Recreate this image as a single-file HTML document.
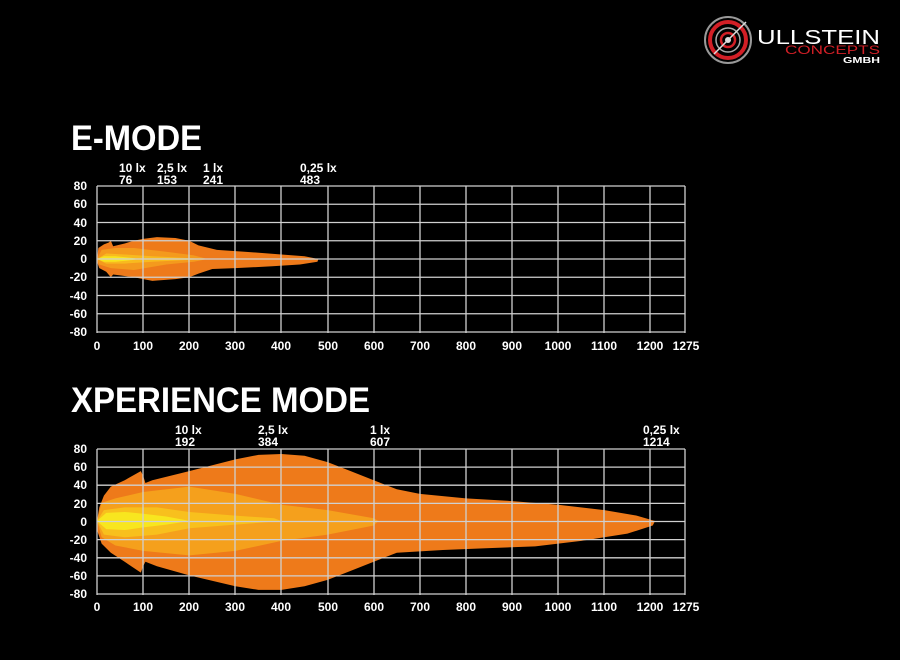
<!DOCTYPE html>
<html><head><meta charset="utf-8"><style>
html,body{margin:0;padding:0;background:#000;}
svg{display:block}
text{font-family:"Liberation Sans",sans-serif;font-weight:bold;fill:#fff}
</style></head><body>
<svg width="900" height="660" viewBox="0 0 900 660">
<rect width="900" height="660" fill="#000"/>
<!-- logo -->
<g transform="translate(728,40)">
<circle r="23" fill="none" stroke="#999" stroke-width="2"/>
<circle r="18" fill="none" stroke="#d21f26" stroke-width="4"/>
<circle r="12" fill="none" stroke="#aaa" stroke-width="1.5"/>
<circle r="7" fill="none" stroke="#d21f26" stroke-width="2.5"/>
<circle r="3" fill="#ddd"/>
<line x1="-14" y1="14" x2="18" y2="-18" stroke="#ddd" stroke-width="1.5"/>
</g>
<text x="757" y="44" font-size="20" textLength="123" lengthAdjust="spacingAndGlyphs" style="font-weight:normal">ULLSTEIN</text>
<text x="785" y="54" font-size="12" textLength="95" lengthAdjust="spacingAndGlyphs" style="font-weight:normal;fill:#d21f26">CONCEPTS</text>
<text x="843" y="63" font-size="8" textLength="37" lengthAdjust="spacingAndGlyphs">GMBH</text>

<text x="71" y="150" font-size="35" textLength="131" lengthAdjust="spacingAndGlyphs">E-MODE</text>
<text x="71" y="412" font-size="35" textLength="299" lengthAdjust="spacingAndGlyphs">XPERIENCE MODE</text>

<!-- chart 1 shapes -->
<g transform="translate(97,259) scale(0.4612,-0.9125)">
<polygon fill="#EE7A1A" points="0,0 3,12 15,16 25,18 30,20 35,14 60,17 80,20 100,22 130,24 170,23 200,20 220,15 260,10 320,8 400,5 450,3 480,0 478,-3 440,-6 380,-8 300,-10 250,-11 220,-16 200,-20 170,-22 120,-24 80,-20 50,-18 35,-17 30,-20 20,-14 5,-10 0,-3"/>
<polygon fill="#F49A1D" points="0,0 10,10 40,12 80,12 150,8 210,4 240,0 210,-3 150,-6 80,-12 30,-10 5,-6"/>
<polygon fill="#F8BA1E" points="0,0 20,6 60,5 120,3 200,1 240,0 200,-1 120,-3 60,-5 20,-5"/>
<polygon fill="#F8E41E" points="0,0 15,3 40,3 80,1 90,0 80,-1 40,-3 15,-3"/>
</g>
<!-- chart 2 shapes -->
<g transform="translate(97,521) scale(0.4612,-0.906)">
<polygon fill="#EE7A1A" points="0,0 5,15 15,28 30,38 60,45 95,55 100,50 105,42 120,45 200,55 300,68 350,73 400,74 450,72 500,65 550,55 600,45 650,35 700,30 800,25 900,22 1000,18 1100,12 1170,6 1210,0 1205,-5 1150,-14 1050,-22 950,-28 850,-30 750,-32 650,-35 600,-45 550,-55 500,-65 450,-72 400,-76 350,-76 300,-72 200,-60 130,-50 105,-45 100,-50 95,-57 60,-45 30,-35 10,-25 0,-10"/>
<polygon fill="#F5A01C" points="0,0 10,20 40,25 100,32 200,38 300,30 400,18 500,12 600,3 610,0 600,-5 500,-15 400,-22 300,-33 200,-38 100,-33 40,-27 10,-18"/>
<polygon fill="#F8C01D" points="0,0 15,12 60,15 130,15 200,10 300,6 384,3 400,0 300,-4 200,-8 130,-15 60,-18 15,-15"/>
<polygon fill="#F8E61F" points="0,0 20,9 60,10 100,8 150,5 192,1 200,0 150,-4 100,-7 60,-10 20,-9"/>
</g>

<g stroke="#d0d0d0" stroke-width="1.3" fill="none">
<path d="M97,186V333M143,186V333M189,186V333M235,186V333M281,186V333M328,186V333M374,186V333M420,186V333M466,186V333M512,186V333M558,186V333M604,186V333M650,186V333M685,186V333"/>
<path d="M97,186H685M97,204.25H685M97,222.5H685M97,240.75H685M97,259H685M97,277.25H685M97,295.5H685M97,313.75H685M97,332H685"/>
</g>
<g stroke="#d0d0d0" stroke-width="1.3" fill="none">
<path d="M97,449V595M143,449V595M189,449V595M235,449V595M281,449V595M328,449V595M374,449V595M420,449V595M466,449V595M512,449V595M558,449V595M604,449V595M650,449V595M685,449V595"/>
<path d="M97,449H685M97,467.1H685M97,485.2H685M97,503.4H685M97,521.5H685M97,539.6H685M97,557.8H685M97,575.9H685M97,594H685"/>
</g>

<g font-size="12" text-anchor="end">
<text x="87" y="190">80</text><text x="87" y="208">60</text><text x="87" y="227">40</text><text x="87" y="245">20</text><text x="87" y="263">0</text><text x="87" y="281">-20</text><text x="87" y="300">-40</text><text x="87" y="318">-60</text><text x="87" y="336">-80</text>
<text x="87" y="453">80</text><text x="87" y="471">60</text><text x="87" y="489">40</text><text x="87" y="508">20</text><text x="87" y="526">0</text><text x="87" y="544">-20</text><text x="87" y="562">-40</text><text x="87" y="580">-60</text><text x="87" y="598">-80</text>
</g>
<g font-size="12" text-anchor="middle">
<text x="97" y="350">0</text><text x="143" y="350">100</text><text x="189" y="350">200</text><text x="235" y="350">300</text><text x="281" y="350">400</text><text x="328" y="350">500</text><text x="374" y="350">600</text><text x="420" y="350">700</text><text x="466" y="350">800</text><text x="512" y="350">900</text><text x="558" y="350">1000</text><text x="604" y="350">1100</text><text x="650" y="350">1200</text><text x="686" y="350">1275</text>
<text x="97" y="611">0</text><text x="143" y="611">100</text><text x="189" y="611">200</text><text x="235" y="611">300</text><text x="281" y="611">400</text><text x="328" y="611">500</text><text x="374" y="611">600</text><text x="420" y="611">700</text><text x="466" y="611">800</text><text x="512" y="611">900</text><text x="558" y="611">1000</text><text x="604" y="611">1100</text><text x="650" y="611">1200</text><text x="686" y="611">1275</text>
</g>
<g font-size="12">
<text x="119" y="172">10 lx</text><text x="119" y="184">76</text>
<text x="157" y="172">2,5 lx</text><text x="157" y="184">153</text>
<text x="203" y="172">1 lx</text><text x="203" y="184">241</text>
<text x="300" y="172">0,25 lx</text><text x="300" y="184">483</text>
<text x="175" y="434">10 lx</text><text x="175" y="446">192</text>
<text x="258" y="434">2,5 lx</text><text x="258" y="446">384</text>
<text x="370" y="434">1 lx</text><text x="370" y="446">607</text>
<text x="643" y="434">0,25 lx</text><text x="643" y="446">1214</text>
</g>
</svg>
</body></html>
